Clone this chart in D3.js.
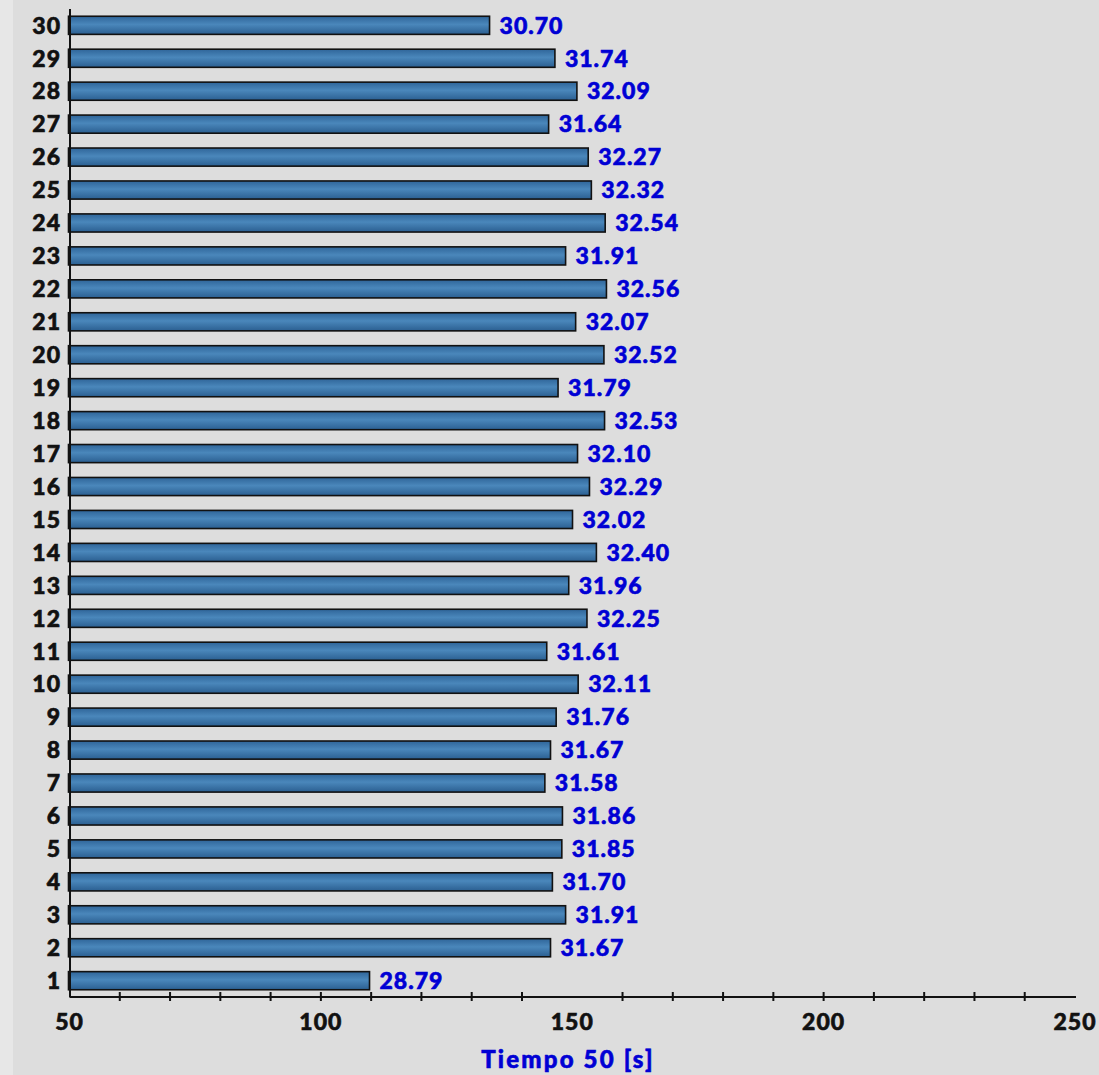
<!DOCTYPE html>
<html>
<head>
<meta charset="utf-8">
<script src="https://cdn.jsdelivr.net/npm/d3@7"></script>
<style>
  html, body { margin: 0; padding: 0; background: #e7e7e7; }
  svg { display: block; }
  text { font-family: Lato, "Open Sans", sans-serif; font-weight: 900; }
</style>
</head>
<body>
<script>
// Chart data
const categories = ["1","2","3","4","5","6","7","8","9","10","11","12","13","14","15",
  "16","17","18","19","20","21","22","23","24","25","26","27","28","29","30"];
const values = [28.79, 31.67, 31.91, 31.70, 31.85, 31.86, 31.58, 31.67, 31.76, 32.11,
  31.61, 32.25, 31.96, 32.40, 32.02, 32.29, 32.10, 32.53, 31.79, 32.52,
  32.07, 32.56, 31.91, 32.54, 32.32, 32.27, 31.64, 32.09, 31.74, 30.70];
const tickLabels = [50, 100, 150, 200, 250];
const minorTicks = [60, 70, 80, 90, 100, 110, 120, 130, 140, 160, 170, 180, 190, 200, 210, 220, 230, 240];
const axisTitle = "Tiempo 50 [s]";

const data = categories.map((c, i) => ({ cat: c, value: values[i] }));

const W = 1099, H = 1075;
const plotLeft = 69.5, plotRight = 1075, plotTop = 9, plotBottom = 997;

const svg = d3.select("body").append("svg")
  .attr("width", W)
  .attr("height", H);

// panel background
svg.append("rect")
  .attr("x", 13).attr("y", -40)
  .attr("width", W + 40).attr("height", H + 80)
  .attr("rx", 34).attr("ry", 34)
  .attr("fill", "#dddddd");

const defs = svg.append("defs");
const grad = defs.append("linearGradient")
  .attr("id", "barGrad")
  .attr("x1", 0).attr("y1", 0).attr("x2", 0).attr("y2", 1);
grad.append("stop").attr("offset", "0%").attr("stop-color", "#2f6599");
grad.append("stop").attr("offset", "45%").attr("stop-color", "#4a87bb");
grad.append("stop").attr("offset", "100%").attr("stop-color", "#2b5f91");

// scales: bars use their own hidden domain, the axis shows 50..250
const xBar = d3.scaleLinear().domain([24, 40]).range([plotLeft, plotRight]);
const xAxis = d3.scaleLinear().domain([50, 250]).range([plotLeft, plotRight]);
const y = d3.scaleBand()
  .domain(categories.slice().reverse())
  .range([plotTop, plotBottom])
  .paddingInner(0.45)
  .paddingOuter(0.22);

// bars
svg.selectAll(".bar")
  .data(data)
  .enter().append("rect")
  .attr("class", "bar")
  .attr("x", xBar(24) - 1)
  .attr("y", d => y(d.cat))
  .attr("width", d => xBar(d.value) - xBar(24))
  .attr("height", y.bandwidth())
  .attr("fill", "url(#barGrad)")
  .attr("stroke", "#111")
  .attr("stroke-width", 1.6);

// value labels
svg.selectAll(".val")
  .data(data)
  .enter().append("text")
  .attr("class", "val")
  .attr("x", d => xBar(d.value) + 9)
  .attr("y", d => y(d.cat) + y.bandwidth() / 2)
  .attr("dy", "0.36em")
  .attr("fill", "#0000d4")
  .attr("stroke", "#0000d4")
  .attr("stroke-width", 0.6)
  .attr("font-size", 23)
  .attr("letter-spacing", 1)
  .text(d => d.value.toFixed(2));

// y axis line
svg.append("line")
  .attr("x1", plotLeft + 0.5).attr("x2", plotLeft + 0.5)
  .attr("y1", plotTop).attr("y2", plotBottom)
  .attr("stroke", "#111").attr("stroke-width", 2);

// y category labels
svg.selectAll(".cat")
  .data(categories)
  .enter().append("text")
  .attr("class", "cat")
  .attr("x", 61)
  .attr("y", d => y(d) + y.bandwidth() / 2)
  .attr("dy", "0.36em")
  .attr("text-anchor", "end")
  .attr("fill", "#111")
  .attr("stroke", "#111")
  .attr("stroke-width", 0.6)
  .attr("font-size", 23)
  .attr("letter-spacing", 1)
  .text(d => d);

// x axis
const xg = svg.append("g").attr("transform", `translate(0,${plotBottom})`);
xg.append("line")
  .attr("x1", plotLeft).attr("x2", plotRight + 1)
  .attr("stroke", "#111").attr("stroke-width", 2);
xg.selectAll(".tick")
  .data(minorTicks)
  .enter().append("line")
  .attr("x1", d => xAxis(d)).attr("x2", d => xAxis(d))
  .attr("y1", -5).attr("y2", 4)
  .attr("stroke", "#111").attr("stroke-width", 2);
xg.selectAll(".tl")
  .data(tickLabels)
  .enter().append("text")
  .attr("x", d => xAxis(d))
  .attr("y", 33)
  .attr("text-anchor", "middle")
  .attr("fill", "#111")
  .attr("stroke", "#111")
  .attr("stroke-width", 0.6)
  .attr("font-size", 23)
  .attr("letter-spacing", 1)
  .text(d => d);

svg.append("text")
  .attr("x", 568)
  .attr("y", 1068)
  .attr("text-anchor", "middle")
  .attr("fill", "#0000d4")
  .attr("stroke", "#0000d4")
  .attr("stroke-width", 0.6)
  .attr("font-size", 24)
  .attr("letter-spacing", 2.2)
  .text(axisTitle);
</script>
</body>
</html>
